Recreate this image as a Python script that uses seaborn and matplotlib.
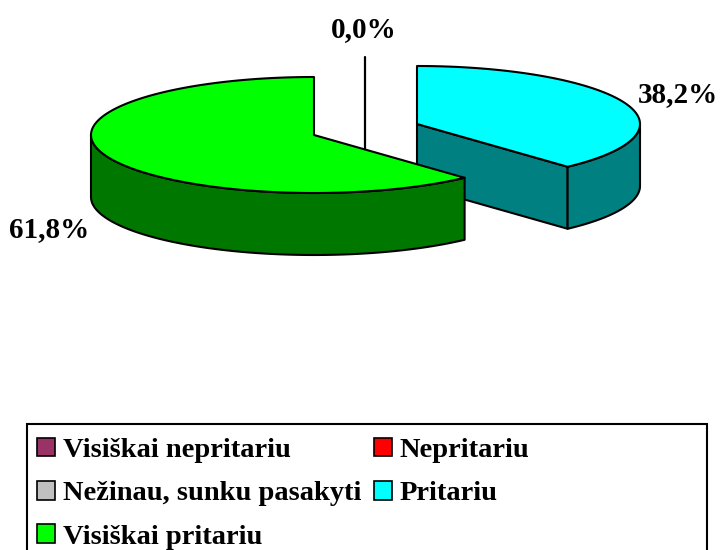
import numpy as np
import matplotlib
matplotlib.use("Agg")
import matplotlib.pyplot as plt
from matplotlib.patches import Polygon, Rectangle
import seaborn as sns

# --- data ---
categories = ["Visiškai nepritariu", "Nepritariu", "Nežinau, sunku pasakyti",
              "Pritariu", "Visiškai pritariu"]
values = [0.0, 0.0, 0.0, 38.2, 61.8]
colors_top = ["#993366", "#FF0000", "#C0C0C0", "#00FFFF", "#00FF00"]
colors_side = ["#4C1933", "#800000", "#606060", "#008080", "#007800"]
explode_centres = {3: (417, 124), 4: (314, 135)}

sns.set_theme(style="white")
plt.rcParams["font.family"] = ["Liberation Serif", "DejaVu Serif"]
plt.rcParams["font.weight"] = "bold"

RX, RY, DEPTH = 223, 58, 62
EDGE = dict(edgecolor="black", linewidth=1.5, joinstyle="round")


def rim(cx, cy, a0, a1, n=120):
    t = np.radians(np.linspace(a0, a1, n))
    return np.column_stack([cx + RX * np.sin(t), cy - RY * np.cos(t)])


fig = plt.figure(figsize=(7.2, 5.5), dpi=100)
ax = fig.add_axes([0, 0, 1, 1])
ax.set_xlim(0, 720)
ax.set_ylim(550, 0)
ax.axis("off")

# slice angles, clockwise from 12 o'clock, accumulated from the values
order = [3, 4, 0, 1, 2]
angles = {}
start = 0.0
for i in order:
    sweep = values[i] / sum(values) * 360
    angles[i] = (start, start + sweep)
    start += sweep

# side faces
for i in order:
    if values[i] <= 0:
        continue
    a0, a1 = angles[i]
    cx, cy = explode_centres[i]
    end = rim(cx, cy, a1, a1, 1)
    if 0 < a1 < 180:  # visible cut face
        face = np.array([[cx, cy], end[0], end[0] + [0, DEPTH], [cx, cy + DEPTH]])
        ax.add_patch(Polygon(face, facecolor=colors_side[i], zorder=2 + i, **EDGE))
    lo, hi = max(a0, 90), min(a1, 270)
    if lo < hi:
        arc = rim(cx, cy, lo, hi)
        face = np.vstack([arc, (arc + [0, DEPTH])[::-1]])
        ax.add_patch(Polygon(face, facecolor=colors_side[i], zorder=2 + i, **EDGE))

# top faces
for i in order:
    if values[i] <= 0:
        continue
    a0, a1 = angles[i]
    cx, cy = explode_centres[i]
    poly = np.vstack([[cx, cy], rim(cx, cy, a0, a1, 200)])
    ax.add_patch(Polygon(poly, facecolor=colors_top[i], zorder=12 + i, **EDGE))

# leader of the empty slices, ending behind the green top
ax.plot([365, 365], [57, 160], color="black", lw=1.6, zorder=3)

# percentage labels
fmt = lambda v: f"{v:.1f}%".replace(".", ",")
LABEL = dict(fontsize=21, fontweight="bold", color="black", ha="center",
             va="center", zorder=30)
ax.text(364, 30, fmt(values[0]), **LABEL)
ax.text(677.5, 95, fmt(values[3]), **LABEL)
ax.text(49.5, 230, fmt(values[4]), **LABEL)

# legend frame runs off the bottom of the figure
ax.add_patch(Rectangle((27, 424), 680, 160, facecolor="white", edgecolor="black",
                       linewidth=1.5, zorder=1))
leg_order = [0, 2, 4, 1, 3]
handles = [Rectangle((0, 0), 1, 1, facecolor=colors_top[i], edgecolor="black",
                     linewidth=1.2) for i in leg_order]
ax.legend(handles, [categories[i] for i in leg_order], ncol=2, frameon=False,
          loc="upper left", bbox_to_anchor=(27 / 720, 1 - 428 / 550),
          borderaxespad=0, borderpad=0.35, labelcolor="black",
          prop=dict(family="Liberation Serif", weight="bold", size=20.5),
          handlelength=0.62, handleheight=0.62, handletextpad=0.28,
          labelspacing=0.63, columnspacing=0.46)

fig.savefig("out.png", dpi=100, facecolor="white")
